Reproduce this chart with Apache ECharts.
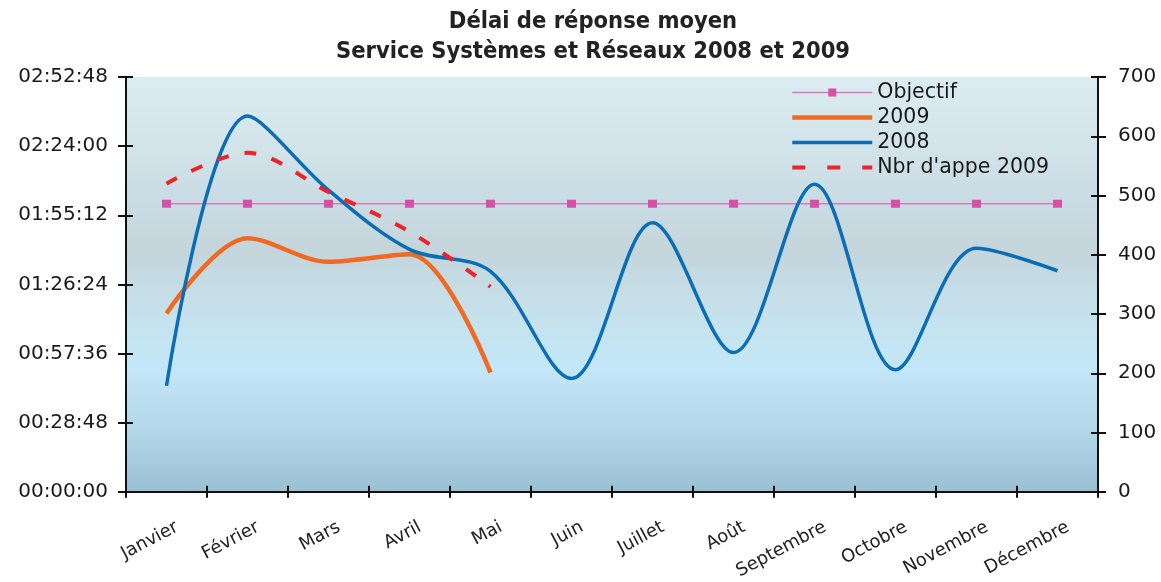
<!DOCTYPE html>
<html><head><meta charset="utf-8">
<script src="https://cdn.jsdelivr.net/npm/echarts@6/dist/echarts.min.js"></script>
<style>html,body{margin:0;padding:0;background:#fff}#c{width:1161px;height:582px}</style>
</head><body><div id="c"></div>
<script>
const months = ['Janvier','Février','Mars','Avril','Mai','Juin','Juillet','Août','Septembre','Octobre','Novembre','Décembre'];
const timeTicks = ['00:00:00','00:28:48','00:57:36','01:26:24','01:55:12','02:24:00','02:52:48'];
const countTicks = [0,100,200,300,400,500,600,700];
const objectif = ['02:00:00','02:00:00','02:00:00','02:00:00','02:00:00','02:00:00','02:00:00','02:00:00','02:00:00','02:00:00','02:00:00','02:00:00'];
const delai2009 = ['01:14:18','01:45:39','01:35:47','01:38:59','00:49:37'];
const delai2008 = ['00:44:11','02:36:30','02:05:39','01:40:58','01:31:50','00:47:09','01:52:04','00:58:01','02:08:07','00:50:51','01:41:27','01:32:05'];
const appels2009 = [520,572,506,439,346];

function toSec(s){const p=s.split(':').map(Number);return p[0]*3600+p[1]*60+p[2];}
function toHMS(v){v=Math.round(v);const h=Math.floor(v/3600),m=Math.floor((v%3600)/60),s=v%60;const f=n=>String(n).padStart(2,'0');return f(h)+':'+f(m)+':'+f(s);}
const tMin = toSec(timeTicks[0]), tMax = toSec(timeTicks[timeTicks.length-1]), tInt = toSec(timeTicks[1]) - toSec(timeTicks[0]);
const cMin = countTicks[0], cMax = countTicks[countTicks.length-1], cInt = countTicks[1]-countTicks[0];

const chart = echarts.init(document.getElementById('c'), null, {renderer:'canvas'});
const axisFont = {fontFamily:'DejaVu Sans', fontSize:20, color:'#1a1a1a'};
const tickStyle = {color:'#111', width:2};
chart.setOption({
  animation:false,
  backgroundColor:'#ffffff',
  title:{
    text:'Délai de réponse moyen\nService Systèmes et Réseaux 2008 et 2009',
    left:588, textAlign:'center', top:2,
    textStyle:{fontFamily:'DejaVu Sans Condensed', fontWeight:'bold', fontSize:23.5, lineHeight:30, color:'#222'}
  },
  grid:{left:126, right:63, top:77, bottom:90, show:true, borderWidth:0,
    backgroundColor:new echarts.graphic.LinearGradient(0,0,0,1,[
      {offset:0,color:'#dcecf3'},
      {offset:0.3,color:'#cadce3'},
      {offset:0.42,color:'#c4d5dc'},
      {offset:0.55,color:'#c6e0ea'},
      {offset:0.7,color:'#c3e7f8'},
      {offset:0.85,color:'#b3d8ea'},
      {offset:1,color:'#9bbfd3'}
    ])},
  legend:{
    orient:'vertical', left:790, top:80, itemWidth:80, itemHeight:10, itemGap:0, padding:0,
    textStyle:{fontFamily:'DejaVu Sans', fontSize:20.5, lineHeight:25, color:'#1a1a1a'},
    data:[
      {name:'Objectif', lineStyle:{width:1.5}},
      {name:'2009', lineStyle:{width:4.5}, itemStyle:{opacity:0}},
      {name:'2008', lineStyle:{width:3.5}, itemStyle:{opacity:0}},
      {name:"Nbr d'appe 2009", lineStyle:{width:4, type:[13,22]}, itemStyle:{opacity:0}}
    ]
  },
  xAxis:[{
    type:'category', data:months, boundaryGap:true,
    axisLine:{lineStyle:{color:'#111', width:2}},
    axisTick:{show:true, length:6, lineStyle:tickStyle},
    axisLabel:{rotate:28, margin:40, fontFamily:'DejaVu Sans', fontSize:18, color:'#222', interval:0, padding:[0,-12,0,0]}
  },{
    type:'category', data:months, boundaryGap:true, position:'bottom',
    axisLine:{show:false},
    axisTick:{show:true, inside:true, length:6, lineStyle:tickStyle},
    axisLabel:{show:false}
  }],
  yAxis:[
    {type:'value', min:tMin, max:tMax, interval:tInt, position:'left',
      axisLine:{show:true, lineStyle:{color:'#111', width:2}},
      axisTick:{show:true, length:8, lineStyle:tickStyle},
      splitLine:{show:false},
      axisLabel:Object.assign({margin:18, formatter:v=>toHMS(v)}, axisFont)},
    {type:'value', min:cMin, max:cMax, interval:cInt, position:'right',
      axisLine:{show:true, lineStyle:{color:'#111', width:2}},
      axisTick:{show:true, length:8, lineStyle:tickStyle},
      splitLine:{show:false},
      axisLabel:Object.assign({margin:20}, axisFont)},
    {type:'value', min:tMin, max:tMax, interval:tInt, position:'left',
      axisLine:{show:false}, axisTick:{show:true, inside:true, length:7, lineStyle:tickStyle},
      splitLine:{show:false}, axisLabel:{show:false}},
    {type:'value', min:cMin, max:cMax, interval:cInt, position:'right',
      axisLine:{show:false}, axisTick:{show:true, inside:true, length:7, lineStyle:tickStyle},
      splitLine:{show:false}, axisLabel:{show:false}}
  ],
  series:[
    {name:'Objectif', type:'line', yAxisIndex:0, data:objectif.map(toSec),
      symbol:'rect', symbolSize:[9,8], showSymbol:true,
      itemStyle:{color:'#d650a6'}, lineStyle:{color:'#d77bbd', width:1.5}},
    {name:'2009', type:'line', yAxisIndex:0, data:delai2009.map(toSec), smooth:0.33,
      symbol:'none', itemStyle:{color:'#f26a22'}, lineStyle:{color:'#f26a22', width:4.5}},
    {name:'2008', type:'line', yAxisIndex:0, data:delai2008.map(toSec), smooth:0.33,
      symbol:'none', itemStyle:{color:'#0b6db6'}, lineStyle:{color:'#0b6db6', width:3.5}},
    {name:"Nbr d'appe 2009", type:'line', yAxisIndex:1, data:appels2009, smooth:0.33,
      symbol:'none', itemStyle:{color:'#ee2229'}, lineStyle:{color:'#ee2229', width:4, type:[12,16]}}
  ]
});
</script></body></html>
